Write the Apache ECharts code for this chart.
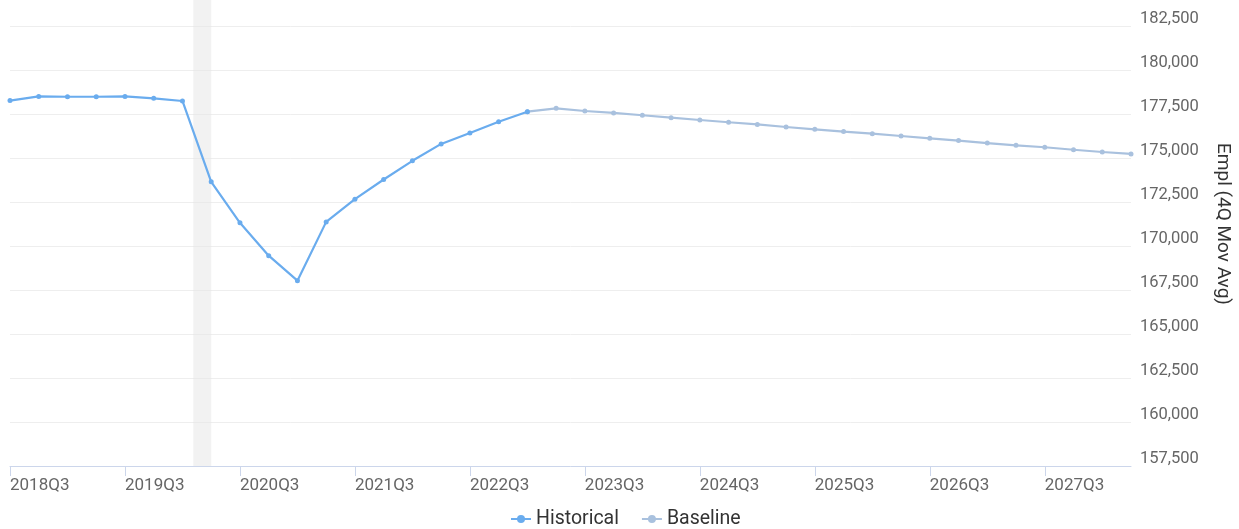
<!DOCTYPE html>
<html>
<head>
<meta charset="utf-8">
<script src="https://cdn.jsdelivr.net/npm/echarts@6/dist/echarts.min.js"></script>
<style>
html,body{margin:0;padding:0;background:#fff;}
#chart{width:1239px;height:529px;}
</style>
</head>
<body>
<div id="chart"></div>
<script>
const categories = ['2018Q3','2018Q4','2019Q1','2019Q2','2019Q3','2019Q4','2020Q1','2020Q2','2020Q3','2020Q4',
  '2021Q1','2021Q2','2021Q3','2021Q4','2022Q1','2022Q2','2022Q3','2022Q4','2023Q1','2023Q2',
  '2023Q3','2023Q4','2024Q1','2024Q2','2024Q3','2024Q4','2025Q1','2025Q2','2025Q3','2025Q4',
  '2026Q1','2026Q2','2026Q3','2026Q4','2027Q1','2027Q2','2027Q3','2027Q4','2028Q1','2028Q2'];

const historical = [178260,178500,178480,178480,178500,178390,178240,173650,171320,169450,
  168030,171370,172660,173780,174840,175800,176420,177060,177630];

const baseline = [177630,177820,177670,177560,177430,177290,177160,177030,176910,176760,
  176630,176500,176380,176250,176120,175990,175850,175720,175610,175470,175340,175230];
const baselineStart = 18;

// recession shading, in category-index units
const recessionBand = [6.38, 7.0];

const yMin = 157500, yMax = 185000, yStep = 2500;

const histData = categories.map((c, i) => i < historical.length ? historical[i] : null);
const baseData = categories.map((c, i) => i >= baselineStart ? baseline[i - baselineStart] : null);

const chart = echarts.init(document.getElementById('chart'), null, {renderer: 'canvas'});
const font = 'Roboto, "Noto Sans", sans-serif';
chart.setOption({
  animation: false,
  textStyle: {fontFamily: font},
  grid: {left: 10, right: 108, top: -18, bottom: 63, containLabel: false, outerBoundsMode: 'none'},
  legend: {
    bottom: -5,
    left: 505,
    itemWidth: 20,
    itemHeight: 10,
    itemGap: 22,
    textStyle: {fontSize: 19.5, color: '#333', fontFamily: font},
    data: ['Historical', 'Baseline']
  },
  xAxis: [{
    type: 'category',
    data: categories,
    boundaryGap: false,
    axisLine: {lineStyle: {color: '#ccd6eb', width: 1}},
    axisTick: {show: true, interval: 3, length: 10, lineStyle: {color: '#ccd6eb'}},
    axisLabel: {interval: 3, align: 'left', margin: 11, fontSize: 17, color: '#666', fontFamily: font},
    splitLine: {show: false}
  }, {
    type: 'value',
    min: 0,
    max: categories.length - 1,
    show: false
  }],
  yAxis: {
    type: 'value',
    position: 'right',
    min: yMin,
    max: yMax,
    interval: yStep,
    name: 'Empl (4Q Mov Avg)',
    nameLocation: 'middle',
    nameRotate: -90,
    nameGap: 82,
    nameTextStyle: {fontSize: 19, color: '#333', fontFamily: font},
    axisLine: {show: false},
    axisTick: {show: false},
    axisLabel: {
      margin: 9,
      fontSize: 16.5,
      lineHeight: 14,
      color: '#666',
      verticalAlign: 'bottom',
      showMaxLabel: false,
      fontFamily: font,
      formatter: v => v.toLocaleString('en-US')
    },
    splitLine: {lineStyle: {color: '#eeeeee', width: 1}}
  },
  series: [{
    name: 'band',
    type: 'line',
    xAxisIndex: 1,
    data: [],
    silent: true,
    markArea: {
      silent: true,
      itemStyle: {color: 'rgba(230,230,230,0.5)'},
      data: [[{xAxis: recessionBand[0]}, {xAxis: recessionBand[1]}]]
    }
  }, {
    name: 'Historical',
    type: 'line',
    data: histData,
    color: '#6aacee',
    symbol: 'circle',
    symbolSize: 5,
    lineStyle: {width: 2.2, color: '#6aacee'},
    itemStyle: {color: '#6aacee'},
    z: 3
  }, {
    name: 'Baseline',
    type: 'line',
    data: baseData,
    color: '#a9c1de',
    symbol: 'circle',
    symbolSize: 5,
    lineStyle: {width: 2.2, color: '#a9c1de'},
    itemStyle: {color: '#a9c1de'},
    z: 2
  }]
});
</script>
</body>
</html>
